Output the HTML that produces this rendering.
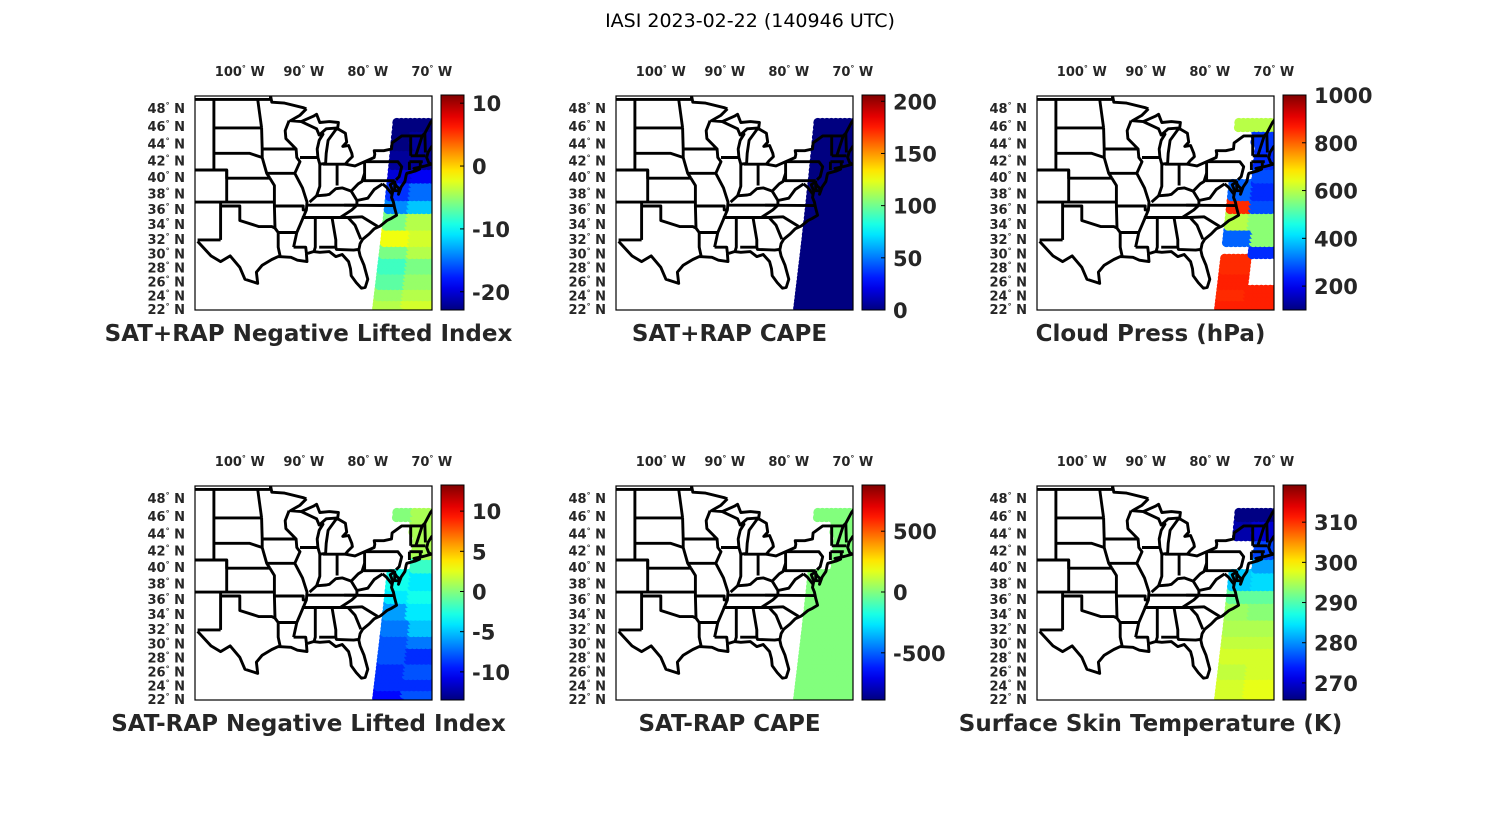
<!DOCTYPE html>
<html><head><meta charset="utf-8">
<style>
html,body{margin:0;padding:0;background:#fff;}
svg{display:block;}
text{font-family:"DejaVu Sans","Liberation Sans",sans-serif;}
</style></head>
<body>
<svg id="fig" width="1500" height="825" viewBox="0 0 1500 825" xmlns="http://www.w3.org/2000/svg">
<rect width="1500" height="825" fill="#fff"/>
<text x="750" y="27" text-anchor="middle" font-size="19" fill="#000">IASI 2023-02-22 (140946 UTC)</text>
<g id="panels"></g>
</svg>
<script>
// ---- data ----
const rowLats = [22.5,24.5,26.5,28.5,30.5,32.5,34.5,36.5,38.5,40.5,42.5,44.5,46.5];
const titles = ["SAT+RAP Negative Lifted Index","SAT+RAP CAPE","Cloud Press (hPa)","SAT-RAP Negative Lifted Index","SAT-RAP CAPE","Surface Skin Temperature (K)"];
const cMin = [-22.9,0,100,-13.5,-888,265.75];
const cMax = [11.3,206,1000,13.25,880,319.25];
const ticks0 = [10,0,-10,-20];
const ticks1 = [200,150,100,50,0];
const ticks2 = [1000,800,600,400,200];
const ticks3 = [10,5,0,-5,-10];
const ticks4 = [500,0,-500];
const ticks5 = [310,300,290,280,270];
const N = NaN;
const west0 = [-4,-5,-7,-8,-6,-2,-6,-14,-17,-20,-22,-23,-23];
const east0 = [-3,-4,-5,-6,-4,-3,-4,-12,-15,-19,-22,-22,-23];
const west1 = [0,0,0,0,0,0,0,0,0,0,0,0,0];
const east1 = [0,0,0,0,0,0,0,0,0,0,0,0,0];
const west2 = [860,850,860,850,N,300,600,850,300,N,N,N,600];
const east2 = [860,860,N,N,250,560,560,280,250,280,250,260,600];
const west3 = [-10,-9,-9,-8,-8,-7,-6,-4,-3,N,N,N,0];
const east3 = [-8,-9,-8,-9,-7,-5,-4,-3,-4,-2,1,1,1];
const west4 = [0,0,0,0,0,0,0,0,0,N,N,N,0];
const east4 = [0,0,0,0,0,0,0,0,0,0,0,0,0];
const west5 = [297,297,296,297,296,295,294,291,283,N,N,268,266];
const east5 = [298,298,297,297,296,295,293,291,284,281,276,270,266];
const lonTicks = [100,90,80,70];
const latTicks = [48,46,44,42,40,38,36,34,32,30,28,26,24,22];

const tickSets=[ticks0,ticks1,ticks2,ticks3,ticks4,ticks5];
const wests=[west0,west1,west2,west3,west4,west5];
const easts=[east0,east1,east2,east3,east4,east5];

// map line geometry (lon,lat)
const mapLines = [
 [[-106.6,31.8],[-104.5,29.8],[-103,29],[-101.5,29.8],[-100,28.2],[-99.2,26.5],[-97.2,25.9],[-97.4,27.5],[-96.5,28.5],[-95,29.3],[-94,29.7],[-92,29.6],[-91,29.2],[-89.5,29],[-89.6,30.1],[-88.5,30.4],[-87.5,30.3],[-86,30.4],[-85,29.7],[-84,30],[-83,29],[-82.7,28],[-82.6,27],[-81.8,26],[-81,25.2],[-80.4,25.3],[-80,26.5],[-80.3,27.5],[-80.6,28.5],[-81.2,29.8],[-81.4,30.6],[-81.2,31.5],[-80.8,32.1],[-79.8,32.8],[-79,33.5],[-78,33.9],[-77,34.6],[-76.3,34.9],[-75.5,35.3],[-75.8,36.2],[-76,37],[-76.3,37.6],[-76.1,38.4],[-76.5,39.2],[-75.9,39.5],[-75.5,39],[-75.1,38.7],[-75.1,38.4],[-75.2,38.0],[-74.8,38.9],[-74.2,39.6],[-74,40.4],[-73.9,40.6],[-72.5,40.9],[-71.9,41.1],[-72.8,41.2],[-71.5,41.4],[-71,41.5],[-70.1,41.7],[-70.5,41.9],[-70.8,42.5],[-70.6,43.1],[-70,43.8],[-68.5,44.3],[-67,44.8]],
 [[-108,49],[-95.2,49],[-95.2,49.4],[-95,48.7],[-93,48.6],[-90,48.1],[-89.6,48]],
 [[-89.6,48],[-90.6,47.3],[-92.1,46.7],[-90.4,46.6],[-88.5,47.2],[-88,47.4],[-87.5,46.5],[-86,46.6],[-84.6,46.5],[-84.7,45.9],[-86.5,45.8],[-87.6,45.1],[-87,45.2],[-87.6,44.5],[-87.9,43.5],[-87.8,42.5],[-87.5,41.7],[-86.6,41.8],[-86.5,43],[-86.2,44.5],[-85,45.7],[-84.7,45.8],[-83.5,45.3],[-83.3,44.3],[-83.9,43.8],[-83,43.9],[-82.5,43],[-82.4,42.6],[-83.1,42.1],[-83.5,41.7],[-82,41.5],[-80.5,42],[-79,42.5],[-78.9,42.9],[-79,43.3],[-77.5,43.3],[-76.3,43.5],[-76.2,44.2],[-74.7,45],[-71.5,45],[-71.1,45.3],[-70.2,46.5],[-69.2,47.4],[-68,47.2],[-67.8,45.7],[-67,44.8]],
 [[-104.05,49],[-104.05,41]],[[-104.05,45.9],[-96.6,45.9]],[[-104.05,43],[-98.5,43],[-96.5,42.5]],
 [[-108,41],[-102.05,41],[-102.05,40],[-95.3,40]],[[-102.05,41],[-102.05,37]],[[-108,37],[-94.6,37]],
 [[-103,37],[-103,32]],[[-103,36.5],[-100,36.5],[-100,34.6],[-97,33.8],[-95,33.8],[-94.5,33.6]],
 [[-106.6,32],[-103,32]],[[-94.6,36.5],[-94.5,33.6],[-94,33],[-94,31],[-93.7,29.8]],[[-94,33],[-91.2,33]],
 [[-91.6,31],[-89.7,31],[-89.6,30.2]],
 [[-95.8,40.6],[-91.4,40.6]],[[-95.3,40],[-94.6,39.1],[-94.6,36.5]],[[-94.6,36.5],[-90.1,36.5],[-90.1,36],[-89.7,36]],
 [[-96.5,43.5],[-91.2,43.5]],[[-96.5,43.5],[-96.5,42.5],[-95.8,40.6],[-95.3,40]],[[-96.6,45.9],[-96.5,43.5]],[[-96.6,45.9],[-97.2,49]],
 [[-92.3,46.7],[-92.9,45.6],[-92.8,44.7],[-91.2,43.5],[-91.1,42.5],[-90.6,42],[-91.4,40.6],[-90.2,38.8],[-89.5,37],[-89.6,36],[-90.1,35],[-90.6,34],[-91.1,33],[-91.6,31]],
 [[-90.4,46.6],[-88,45.8],[-87.6,45.1]],[[-90.6,42.5],[-87.8,42.5]],
 [[-87.5,41.7],[-87.5,39],[-88,37.8]],[[-89.1,37],[-88,37.8],[-86.5,37.9],[-86,38],[-85,38.7],[-84,38.8],[-82.6,38.4],[-81.5,39.3],[-80.9,39.6],[-80.5,40.6]],
 [[-84.8,41.7],[-84.8,39.1]],[[-87,41.7],[-83.5,41.7]],[[-80.5,42],[-80.5,39.7],[-75.8,39.7]],[[-80.5,42],[-75.3,42],[-74.7,41.4],[-75.1,40.2],[-75.6,39.8]],
 [[-89.5,36.6],[-81.7,36.6]],[[-83.7,36.6],[-75.9,36.55]],[[-81.7,36.6],[-82.5,36],[-84.3,35]],[[-90.3,35],[-84.3,35],[-83.1,35]],
 [[-88.2,35],[-88.2,31],[-88.4,30.4]],[[-85.6,35],[-85,32],[-85,31]],[[-87.6,31],[-85,31],[-84.9,30.7],[-82.2,30.6],[-81.5,30.7]],
 [[-83.1,35],[-82,34],[-81.1,32.1]],[[-83.1,35],[-80.9,35.1],[-78.5,33.85]],
 [[-82.6,38.4],[-81.7,37.2],[-81.7,36.6]],[[-81.7,37.2],[-80,37.5],[-79,38.6],[-77.7,39.3]],[[-77.7,39.3],[-77.1,38.9],[-76.2,38]],
 [[-75.8,39.7],[-75.8,38.45],[-75.05,38.45]],
 [[-73.3,45],[-73.3,42.7]],[[-73.3,42.7],[-71,42.7]],[[-73.5,42],[-71.4,42]],[[-73.5,42],[-73.5,41]],[[-72.5,42.7],[-71.5,45]],[[-71,43.1],[-71.1,45.3]],[[-71.8,42],[-71.8,41.3]]
];

// ---- helpers ----
const svgNS="http://www.w3.org/2000/svg";
const root=document.getElementById('panels');
function mk(tag,attrs,parent){const e=document.createElementNS(svgNS,tag);for(const k in attrs)e.setAttribute(k,attrs[k]);(parent||root).appendChild(e);return e;}
function jet(t){t=Math.max(0,Math.min(1,t));const r=Math.max(0,Math.min(1,1.5-Math.abs(4*t-3)));const g=Math.max(0,Math.min(1,1.5-Math.abs(4*t-2)));const b=Math.max(0,Math.min(1,1.5-Math.abs(4*t-1)));return `rgb(${Math.round(r*255)},${Math.round(g*255)},${Math.round(b*255)})`;}
const merc=l=>Math.log(Math.tan(Math.PI/4+l*Math.PI/360));
const MW=237,MH=214,LON0=-107,PXDEG=6.4,KM=357;
function px(ox,lon){return ox+(lon-LON0)*PXDEG;}
function py(oy,lat){return oy+MH-(merc(lat)-merc(22))*KM;}
function lonLeft(lat){return -79+(lat-22)/24.5*3.2;}

const OX=[195,616,1037], OY=[96,486];
for(let p=0;p<6;p++){
 const ox=OX[p%3], oy=OY[Math.floor(p/3)];
 const g=mk('g',{});
 
 
 const cid='clip'+p;
 const cp=mk('clipPath',{id:cid},g);mk('rect',{x:ox,y:oy,width:MW,height:MH},cp);
 const dg=mk('g',{'clip-path':`url(#${cid})`},g);
 
 
 const topLat=(p==0||p==1)?46.8:47.0;
 for(let lat=22.3;lat<=topLat;lat+=0.55){
  let ri=Math.round((lat-22.5)/2);ri=Math.max(0,Math.min(12,ri));
  const L=lonLeft(lat),R=-69.8,mid=(L+R)/2;
  for(let lon=L+0.35;lon<=R;lon+=0.7){
   const v=(lon<mid?wests[p]:easts[p])[ri];
   if(isNaN(v))continue;
   const c=mk('circle',{cx:px(ox,lon).toFixed(1),cy:py(oy,lat).toFixed(1),r:4.6,fill:jet((v-cMin[p])/(cMax[p]-cMin[p]))},dg);
   
   
  }
 }
 const mg=mk('g',{'clip-path':`url(#${cid})`,fill:'none',stroke:'#000','stroke-width':2.9,'stroke-linejoin':'round'},g);
 
 
 mapLines.forEach(line=>{mk('polyline',{points:line.map(q=>px(ox,q[0]).toFixed(1)+','+py(oy,q[1]).toFixed(1)).join(' ')},mg);});
 const fr=mk('rect',{x:ox,y:oy,width:MW,height:MH,fill:'none',stroke:'#000','stroke-width':1.2},g);
 
 
 lonTicks.forEach(d=>{
  const t=mk('text',{x:px(ox,-d),y:oy-20,'text-anchor':'middle','font-size':13,'font-weight':'bold',fill:'#262626'},g);
  
  
  t.innerHTML=`${d}<tspan dy="-5" font-size="8">°</tspan><tspan dy="5"> W</tspan>`;
 });
 latTicks.forEach(d=>{
  const t=mk('text',{x:ox-10,y:py(oy,d)+4,'text-anchor':'end','font-size':13,'font-weight':'bold',fill:'#262626'},g);
  
  
  t.innerHTML=`${d}<tspan dy="-5" font-size="8">°</tspan><tspan dy="5"> N</tspan>`;
 });
 const cbx=ox+246, cbw=23, cby=oy-1, cbh=MH+1;
 const gid='grad'+p;
 const lg=mk('linearGradient',{id:gid,x1:0,y1:1,x2:0,y2:0},g);
 for(let i=0;i<=20;i++)mk('stop',{offset:i/20,'stop-color':jet(i/20)},lg);
 const cb=mk('rect',{x:cbx,y:cby,width:cbw,height:cbh,fill:`url(#${gid})`,stroke:'#000','stroke-width':1},g);
 
 
 tickSets[p].forEach(v=>{
  const yy=cby+cbh-(v-cMin[p])/(cMax[p]-cMin[p])*cbh;
  mk('line',{x1:cbx+cbw-4,x2:cbx+cbw,y1:yy,y2:yy,stroke:'#000'},g);
  const t=mk('text',{x:cbx+cbw+8,y:yy+8,'font-size':21,'font-weight':'bold',fill:'#262626'},g);
  
  
  t.textContent=v;
 });
 const tt=mk('text',{x:ox+MW/2-5,y:oy+MH+31,'text-anchor':'middle','font-size':23,'font-weight':'bold',fill:'#262626'},g);
 
 
 tt.textContent=titles[p];
}
</script>
</body></html>
